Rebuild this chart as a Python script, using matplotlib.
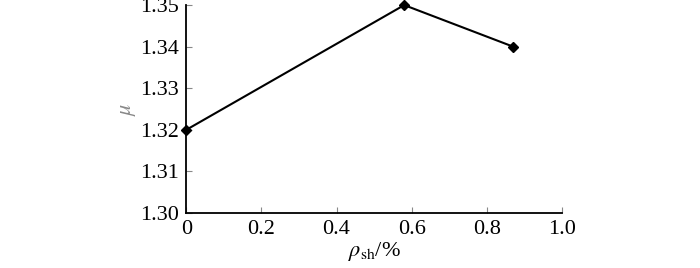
import matplotlib
matplotlib.use("Agg")
import matplotlib.pyplot as plt

rho_sh = [0.0, 0.58, 0.87]
mu = [1.32, 1.35, 1.34]
xticks = [0, 0.2, 0.4, 0.6, 0.8, 1.0]
xticklabels = ["0", "0.2", "0.4", "0.6", "0.8", "1.0"]
yticks = [1.30, 1.31, 1.32, 1.33, 1.34, 1.35]
yticklabels = ["1.30", "1.31", "1.32", "1.33", "1.34", "1.35"]

plt.rcParams['font.family'] = ['Liberation Serif', 'DejaVu Serif']
plt.rcParams['mathtext.fontset'] = 'stix'

fig = plt.figure(figsize=(7.0, 2.68), dpi=100)
ax = fig.add_axes([0.266, 0.205, 0.537, 0.776])
ax.plot(rho_sh, mu, color='black', lw=1.5, marker='D', ms=5, clip_on=False)
ax.set_xlim(0, 1.0)
ax.set_ylim(1.30, 1.35)
ax.set_xticks(xticks)
ax.set_xticklabels(xticklabels)
ax.set_yticks(yticks)
ax.set_yticklabels(yticklabels)
ax.spines['top'].set_visible(False)
ax.spines['right'].set_visible(False)
for s in ['left', 'bottom']:
    ax.spines[s].set_linewidth(1.3)
ax.tick_params(axis='both', direction='in', labelsize=16, length=4, width=0.8, color='#888888', pad=5)
ax.set_ylabel(r'$\mu$', fontsize=16, color='#888888', labelpad=2)
ax.set_xlabel(r'$\rho_{\mathrm{sh}}$/%', fontsize=16, labelpad=1)
fig.savefig('out.png', dpi=100)
